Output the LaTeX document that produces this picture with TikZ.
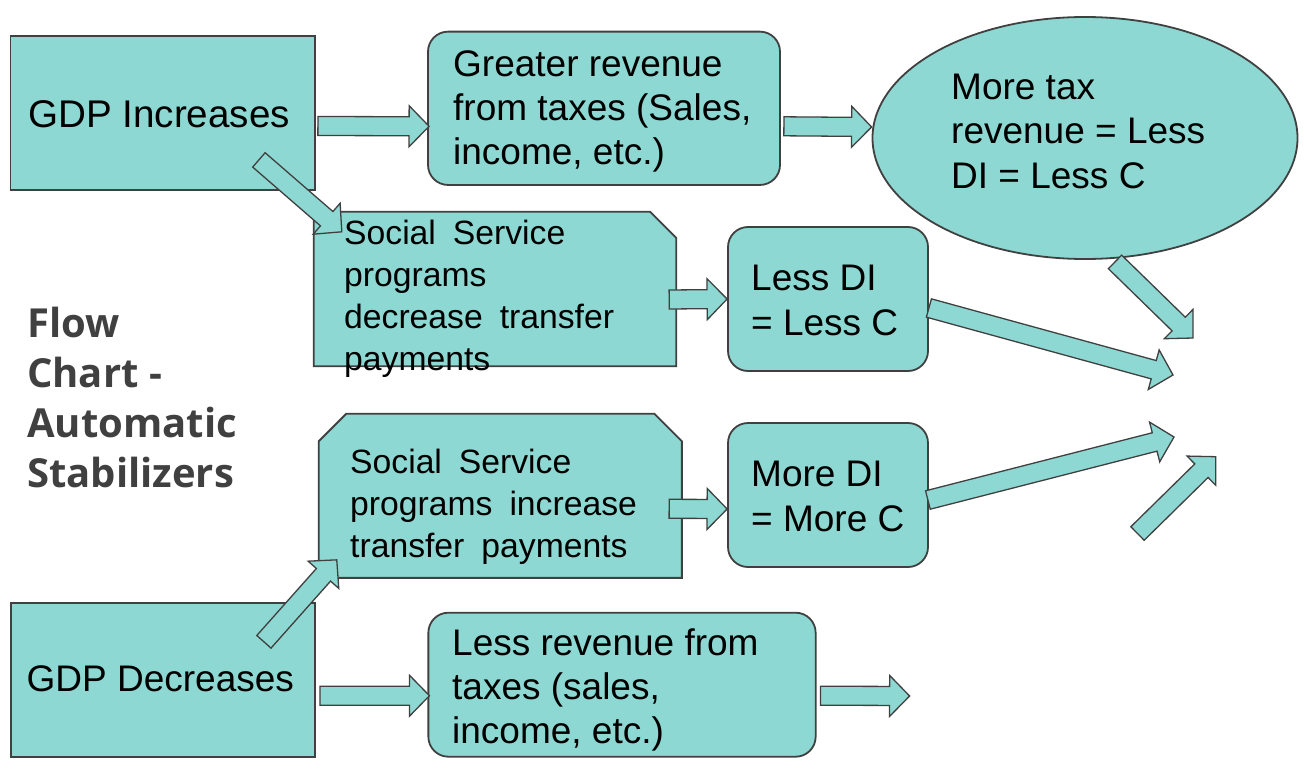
\documentclass[tikz,border=0pt]{standalone}
\usepackage{fontspec}
\setmainfont{Liberation Sans}
\newfontfamily\titlefont{Open Sans}
\usetikzlibrary{shapes.geometric, calc}

\definecolor{boxfill}{RGB}{141,216,210}
\definecolor{boxline}{RGB}{64,64,64}

% Block arrow from #1 to #2
\newcommand{\blockarrow}[2]{
    \path (#1) coordinate (ba-s) (#2) coordinate (ba-e);
    \path ($(ba-e)!20pt!(ba-s)$) coordinate (ba-h);
    \draw [barrow] ($(ba-s)!9.5pt!90:(ba-e)$) -- ($(ba-h)!9.5pt!90:(ba-e)$)
        -- ($(ba-h)!20.5pt!90:(ba-e)$) -- (ba-e)
        -- ($(ba-h)!20.5pt!-90:(ba-e)$) -- ($(ba-h)!9.5pt!-90:(ba-e)$)
        -- ($(ba-s)!9.5pt!-90:(ba-e)$) -- cycle;
}

\begin{document}
\begin{tikzpicture}[
    x=1pt, y=-1pt,
    % Styles
    box/.style={ % Filled shapes
        draw=boxline,
        fill=boxfill,
        line width=1.8pt,
        inner sep=0pt
    },
    sharpbox/.style={ % GDP boxes
        box,
        rectangle
    },
    roundbox/.style={ % Boxes with rounded corners
        box,
        rectangle,
        rounded corners=20pt
    },
    snipframe/.style={ % Frame of a box with cut corners, outline drawn apart
        rectangle,
        inner sep=0pt
    },
    bubble/.style={ % Ellipse
        box,
        ellipse
    },
    txt/.style={ % Texts in the boxes
        anchor=north west,
        inner sep=0pt,
        align=left,
        font=\fontsize{37}{44}\selectfont
    },
    sstxt/.style={ % Social service texts, wide word spaces
        txt,
        text width=340pt,
        font=\fontsize{33.7}{42}\selectfont,
        execute at begin node={\spaceskip=17pt\relax}
    },
    barrow/.style={ % Block arrows
        draw=boxline,
        fill=boxfill,
        line width=1.3pt,
        line join=miter
    }
]
    \useasboundingbox (0,0) rectangle (1304,776);

    % Boxes
    \node [sharpbox, minimum width=304.5pt, minimum height=154pt] (gdpinc) at (162.75,113) {};
    \node [roundbox, minimum width=352pt, minimum height=153.3pt] (grev) at (604,108.3) {};
    \node [bubble, minimum width=425pt, minimum height=242pt] (moretax) at (1085,138) {};
    \node [snipframe, minimum width=362pt, minimum height=154pt] (ss1) at (495,289) {};
    \node [snipframe, minimum width=362.7pt, minimum height=163.7pt] (ss2) at (500.3,495.8) {};
    \node [roundbox, minimum width=200pt, minimum height=144pt] (lessdi) at (828,299) {};
    \node [roundbox, minimum width=200pt, minimum height=144pt] (moredi) at (828,495) {};
    \node [sharpbox, minimum width=304.4pt, minimum height=154pt] (gdpdec) at (162.8,679.7) {};
    \node [roundbox, minimum width=387.3pt, minimum height=144pt] (lessrev) at (622,684.7) {};

    % Cut corners of the social service boxes
    \draw [box] (ss1.north west) -- ($(ss1.north east)+(-26,0)$) -- ($(ss1.north east)+(0,26)$)
        -- (ss1.south east) -- (ss1.south west) -- cycle;
    \draw [box] ($(ss2.north west)+(0,27.5)$) -- ($(ss2.north west)+(27.5,0)$)
        -- ($(ss2.north east)+(-27.5,0)$) -- ($(ss2.north east)+(0,27.5)$)
        -- (ss2.south east) -- (ss2.south west) -- cycle;

    % Free ends of the arrows
    \coordinate (lessdi-out) at (1173,375);
    \coordinate (moredi-out) at (1174,437);
    \coordinate (moretax-out) at (1193,338);
    \coordinate (up-s) at (1137.5,533.5);
    \coordinate (up-e) at (1215.7,456.7);
    \coordinate (lessrev-out) at (909.6,696);

    % Block arrows
    \blockarrow{$(gdpinc.east)+(2,13)$}{$(grev.west)+(2,18)$}
    \blockarrow{$(grev.east)+(3,18)$}{$(moretax.west)+(0,-11)$}
    \blockarrow{$(gdpinc.south east)+(-57,-31)$}{$(ss1.north west)+(28,20)$}
    \blockarrow{$(gdpdec.north east)+(-52,40)$}{$(ss2.south west)+(18,-18)$}
    \blockarrow{$(ss1.east)+(-7,10.5)$}{lessdi.west}
    \blockarrow{$(ss2.east)+(-12.7,13)$}{$(moredi.west)+(0,14)$}
    \blockarrow{$(lessdi.east)+(0,9)$}{lessdi-out}
    \blockarrow{$(moredi.east)+(-1,5)$}{moredi-out}
    \blockarrow{$(moretax.south)+(30,2)$}{moretax-out}
    \blockarrow{up-s}{up-e}
    \blockarrow{$(gdpdec.east)+(4,16)$}{$(lessrev.west)+(2,11)$}
    \blockarrow{$(lessrev.east)+(4,11)$}{lessrev-out}

    % Texts
    \node [txt, font=\fontsize{38.6}{45}\selectfont] (gdpinc-t) at (28,96) {\strut GDP Increases};
    \node [txt] (grev-t) at (453,45) {\strut Greater revenue\\from taxes (Sales,\\income, etc.)};
    \node [txt, font=\fontsize{37}{44.5}\selectfont] (moretax-t) at (951,68) {\strut More tax\\revenue = Less\\DI = Less C};
    \node [sstxt] (ss1-t) at (344,214.4) {\strut Social Service\\programs\\decrease transfer\\payments};
    \node [sstxt] (ss2-t) at (350,443.4) {\strut Social Service\\programs increase\\transfer payments};
    \node [txt, font=\fontsize{37}{45}\selectfont] (lessdi-t) at (751,258.5) {\strut Less DI\\= Less C};
    \node [txt, font=\fontsize{37}{45}\selectfont] (moredi-t) at (751,455) {\strut More DI\\= More C};
    \node [txt, font=\fontsize{37}{45}\selectfont] (gdpdec-t) at (26.5,660) {\strut GDP Decreases};
    \node [txt] (lessrev-t) at (452,624) {\strut Less revenue from\\taxes (sales,\\income, etc.)};
    \node [txt, text=boxline, font=\titlefont\bfseries\fontsize{40}{50}\selectfont] (title) at (27,302)
        {\strut Flow\\Chart -\\Automatic\\Stabilizers};
\end{tikzpicture}
\end{document}
